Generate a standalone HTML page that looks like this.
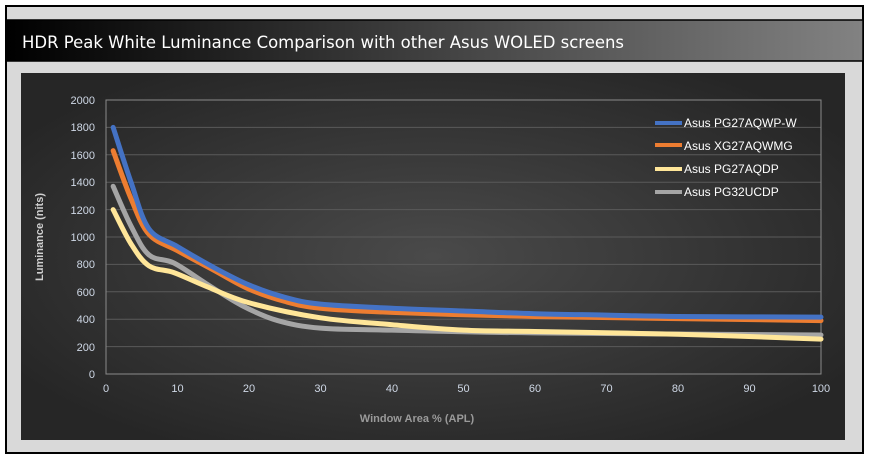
<!DOCTYPE html>
<html><head><meta charset="utf-8"><style>
body{margin:0;width:871px;height:455px;background:#fff;overflow:hidden;font-family:"Liberation Sans",sans-serif}
</style></head><body>
<svg width="871" height="455" xmlns="http://www.w3.org/2000/svg">
<defs>
<linearGradient id="tb" x1="0" x2="1"><stop offset="0" stop-color="#000"/><stop offset="1" stop-color="#828282"/></linearGradient>
<radialGradient id="pg" cx="0.5" cy="0.5" r="0.6"><stop offset="0" stop-color="#4a4a4a"/><stop offset="1" stop-color="#262626"/></radialGradient>
</defs>
<rect x="6" y="6" width="857" height="447" fill="#d9d9d9" stroke="#000" stroke-width="2"/>
<rect x="6" y="20" width="857" height="41" fill="url(#tb)" stroke="#000" stroke-width="1.5"/>
<text x="22" y="48" font-size="17" fill="#fff" font-family="DejaVu Sans, sans-serif" textLength="602" lengthAdjust="spacingAndGlyphs">HDR Peak White Luminance Comparison with other Asus WOLED screens</text>
<rect x="21" y="73" width="824" height="367" fill="url(#pg)"/>
<g stroke="#5a5a5a" stroke-width="1">
<line x1="106" x2="821" y1="127.4" y2="127.4"/><line x1="106" x2="821" y1="154.8" y2="154.8"/>
<line x1="106" x2="821" y1="182.2" y2="182.2"/><line x1="106" x2="821" y1="209.6" y2="209.6"/>
<line x1="106" x2="821" y1="237" y2="237"/><line x1="106" x2="821" y1="264.4" y2="264.4"/>
<line x1="106" x2="821" y1="291.8" y2="291.8"/><line x1="106" x2="821" y1="319.2" y2="319.2"/>
<line x1="106" x2="821" y1="346.6" y2="346.6"/>
</g>
<rect x="106" y="100" width="715" height="274" fill="none" stroke="#8a8a8a" stroke-width="1"/>
<g font-size="11" fill="#cfd8e6" text-anchor="end">
<text x="95" y="104">2000</text><text x="95" y="131">1800</text><text x="95" y="159">1600</text><text x="95" y="186">1400</text><text x="95" y="214">1200</text><text x="95" y="241">1000</text><text x="95" y="268">800</text><text x="95" y="296">600</text><text x="95" y="323">400</text><text x="95" y="351">200</text><text x="95" y="378">0</text>
</g>
<g font-size="11" fill="#cfd8e6" text-anchor="middle">
<text x="106" y="392">0</text><text x="177.5" y="392">10</text><text x="249" y="392">20</text><text x="320.5" y="392">30</text><text x="392" y="392">40</text><text x="463.5" y="392">50</text><text x="535" y="392">60</text><text x="606.5" y="392">70</text><text x="678" y="392">80</text><text x="749.5" y="392">90</text><text x="821" y="392">100</text>
</g>
<text x="417" y="422" font-size="11" font-weight="bold" fill="#9a9a9a" text-anchor="middle">Window Area % (APL)</text>
<text transform="translate(43,237) rotate(-90)" font-size="11" font-weight="bold" fill="#cfcfcf" text-anchor="middle">Luminance (nits)</text>
<g id="series" fill="none" stroke-width="5" stroke-linecap="round"></g>
<g font-size="12" fill="#fff">
<line x1="655" x2="682" y1="123" y2="123" stroke="#4472c4" stroke-width="4"/><text x="684" y="127">Asus PG27AQWP-W</text>
<line x1="655" x2="682" y1="145" y2="145" stroke="#ed7d31" stroke-width="4"/><text x="684" y="150">Asus XG27AQWMG</text>
<line x1="655" x2="682" y1="169" y2="169" stroke="#ffe699" stroke-width="4"/><text x="684" y="173">Asus PG27AQDP</text>
<line x1="655" x2="682" y1="192" y2="192" stroke="#a5a5a5" stroke-width="4"/><text x="684" y="196">Asus PG32UCDP</text>
</g>
</svg>
<script>
const data=[
["#a5a5a5",[[1,1370],[3.5,1080],[6,870],[9.5,810],[14,660],[19,500],[24,390],[30,335],[40,320],[60,300],[100,285]]],
["#ffe699",[[1,1200],[3.5,950],[6,790],[9.5,740],[14,640],[20,520],[30,410],[40,360],[50,320],[60,310],[80,290],[100,255]]],
["#ed7d31",[[1,1630],[3.5,1280],[6,1020],[10,900],[15,760],[20,620],[25,530],[30,480],[40,450],[60,420],[100,390]]],
["#4472c4",[[1,1800],[3.5,1400],[6,1060],[10,930],[15,780],[20,650],[25,560],[30,510],[40,480],[50,460],[60,440],[70,430],[80,420],[100,415]]]];
const X=v=>106+v*7.15,Y=v=>374-v*0.137;
const g=document.getElementById('series');
data.forEach(([c,pts])=>{
 const p=pts.map(([a,b])=>[X(a),Y(b)]);
 let d=`M${p[0][0]},${p[0][1]}`;
 for(let i=0;i<p.length-1;i++){
  const p0=p[i-1]||p[i],p1=p[i],p2=p[i+1],p3=p[i+2]||p2;
  const c1=[p1[0]+(p2[0]-p0[0])/6,p1[1]+(p2[1]-p0[1])/6];
  const c2=[p2[0]-(p3[0]-p1[0])/6,p2[1]-(p3[1]-p1[1])/6];
  d+=` C${c1[0]},${c1[1]} ${c2[0]},${c2[1]} ${p2[0]},${p2[1]}`;
 }
 const e=document.createElementNS('http://www.w3.org/2000/svg','path');
 e.setAttribute('d',d);e.setAttribute('stroke',c);g.appendChild(e);
});
</script>
</body></html>
